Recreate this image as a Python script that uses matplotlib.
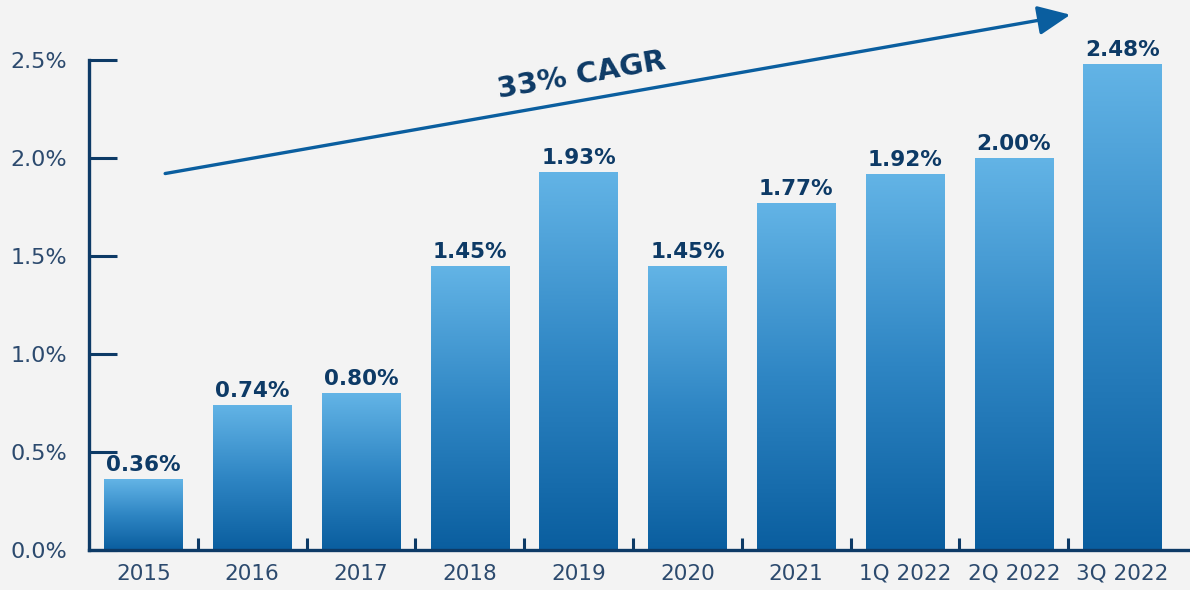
import numpy as np
import matplotlib
matplotlib.use("Agg")
import matplotlib.pyplot as plt
from matplotlib.colors import LinearSegmentedColormap

categories = ["2015", "2016", "2017", "2018", "2019", "2020", "2021", "1Q 2022", "2Q 2022", "3Q 2022"]
values = [0.36, 0.74, 0.80, 1.45, 1.93, 1.45, 1.77, 1.92, 2.00, 2.48]
labels = ["0.36%", "0.74%", "0.80%", "1.45%", "1.93%", "1.45%", "1.77%", "1.92%", "2.00%", "2.48%"]
yticks = [0.0, 0.5, 1.0, 1.5, 2.0, 2.5]
ytick_labels = ["0.0%", "0.5%", "1.0%", "1.5%", "2.0%", "2.5%"]

NAVY = "#0d3a66"
TXT = "#2c4a6e"
BG = "#f3f3f3"

fig = plt.figure(figsize=(11.9, 5.9), dpi=100, facecolor=BG)
ax = fig.add_axes([89 / 1190, 40 / 590, 1 - 89 / 1190, 549 / 590])
ax.set_facecolor(BG)

x = np.arange(len(categories))
bars = ax.bar(x, values, width=0.72, color="none", edgecolor="none", zorder=2)

# vertical gradient inside each bar (light top -> dark bottom)
cmap = LinearSegmentedColormap.from_list("bar", ["#0a5e9f", "#2f86c4", "#63b4e6"])
grad = np.linspace(0, 1, 256).reshape(-1, 1)
for b in bars:
    x0, w, h = b.get_x(), b.get_width(), b.get_height()
    im = ax.imshow(grad, cmap=cmap, origin="lower", aspect="auto",
                   extent=(x0, x0 + w, 0, h), zorder=2)
    im.set_clip_path(b)

for xi, v, lab in zip(x, values, labels):
    ax.text(xi, v + 0.02, lab, ha="center", va="bottom", fontsize=15.5,
            fontweight="bold", color=NAVY, zorder=3)

ax.set_xlim(-0.5, 9.62)
ax.set_ylim(0, 2.8)

ax.set_yticks(yticks)
ax.set_yticklabels(ytick_labels)
ax.tick_params(axis="y", direction="in", length=20, width=2.2, color=NAVY,
               labelsize=16, labelcolor=TXT, pad=16)
ax.set_xticks(x)
ax.set_xticklabels(categories)
ax.tick_params(axis="x", which="major", length=0, labelsize=15.5, labelcolor=TXT, pad=10)
ax.set_xticks(x[:-1] + 0.5, minor=True)
ax.tick_params(axis="x", which="minor", direction="in", length=9, width=2.2, color=NAVY)

for s in ["top", "right"]:
    ax.spines[s].set_visible(False)
for s in ["left", "bottom"]:
    ax.spines[s].set_color(NAVY)
    ax.spines[s].set_linewidth(2.4)
ax.spines["left"].set_bounds(0, 2.5)

# CAGR arrow and label
ax.annotate("", xy=(8.52, 2.73), xytext=(0.2, 1.92),
            arrowprops=dict(arrowstyle="-|>,head_length=2.0,head_width=0.9",
                            color="#0a5e9f", lw=2.4, shrinkA=0, shrinkB=0),
            zorder=4, annotation_clip=False)
ax.text(4.03, 2.42, "33% CAGR", rotation=9.9, rotation_mode="anchor",
        ha="center", va="center", fontsize=21, fontweight="bold", color=NAVY)

fig.savefig("out.png", dpi=100, facecolor=BG)
